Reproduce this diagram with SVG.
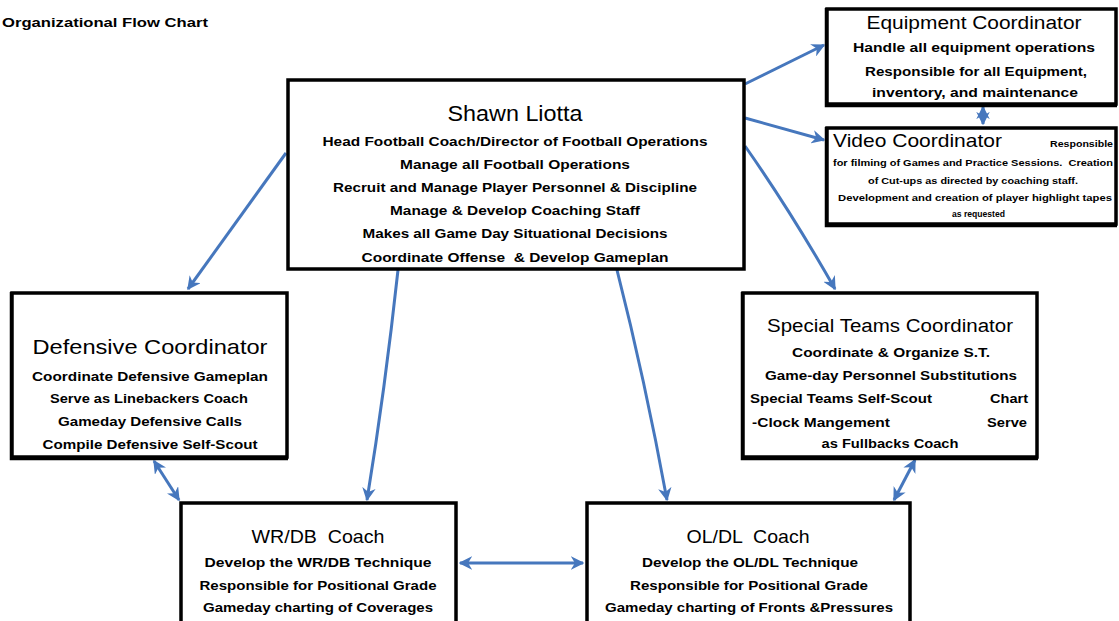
<svg xmlns="http://www.w3.org/2000/svg" width="1119" height="621" viewBox="0 0 1119 621">
<defs>
<style>
.box{fill:#fff;stroke:#000;stroke-width:3.5}
.sh{fill:none;stroke:#000;stroke-width:2.5}
text{font-family:"Liberation Sans",Arial,sans-serif;fill:#000;white-space:pre}
.t{font-size:20px;text-anchor:middle}
.b{font-size:13px;font-weight:bold;text-anchor:middle}
.s{font-size:8.5px;font-weight:bold}
.c{stroke:#4677bd;stroke-width:3;fill:none}
</style>
<marker id="ah" viewBox="0 0 10 10" refX="9" refY="5" markerWidth="4.5" markerHeight="4.5" orient="auto-start-reverse" markerUnits="strokeWidth">
<path d="M0,0 L10,5 L0,10 L3,5 Z" fill="#4677bd"/>
</marker>
</defs>
<rect width="1119" height="621" fill="#fff"/>
<text x="2" y="27" style="font-size:13px;font-weight:bold" textLength="206" lengthAdjust="spacingAndGlyphs">Organizational Flow Chart</text>

<g id="connectors">
<path class="c" d="M286,153 L188,289" marker-end="url(#ah)"/>
<path class="c" d="M398,270 Q385,390 367,500" marker-end="url(#ah)"/>
<path class="c" d="M617,270 Q645,380 667,500" marker-end="url(#ah)"/>
<path class="c" d="M745,146 Q790,210 835,289" marker-end="url(#ah)"/>
<path class="c" d="M745,84 L824,45" marker-end="url(#ah)"/>
<path class="c" d="M745,118 L824,140" marker-end="url(#ah)"/>
<path class="c" d="M154,461 L179,500" marker-start="url(#ah)" marker-end="url(#ah)"/>
<path class="c" d="M915,460 L894,500" marker-start="url(#ah)" marker-end="url(#ah)"/>
<path class="c" d="M460,563 L583,563" marker-start="url(#ah)" marker-end="url(#ah)"/>
<path class="c" d="M983,107 L983,124" marker-start="url(#ah)" marker-end="url(#ah)"/>
</g>

<g id="head">
<rect class="box" x="288" y="80" width="456" height="189"/>
<text class="t" x="515" y="121" style="font-size:22px" textLength="135" lengthAdjust="spacingAndGlyphs">Shawn Liotta</text>
<text class="b" x="515" y="146" textLength="385" lengthAdjust="spacingAndGlyphs">Head Football Coach/Director of Football Operations</text>
<text class="b" x="515" y="169" textLength="230" lengthAdjust="spacingAndGlyphs">Manage all Football Operations</text>
<text class="b" x="515" y="192" textLength="364" lengthAdjust="spacingAndGlyphs">Recruit and Manage Player Personnel &amp; Discipline</text>
<text class="b" x="515" y="215" textLength="250" lengthAdjust="spacingAndGlyphs">Manage &amp; Develop Coaching Staff</text>
<text class="b" x="515" y="238" textLength="305" lengthAdjust="spacingAndGlyphs">Makes all Game Day Situational Decisions</text>
<text class="b" x="515" y="262" textLength="307" lengthAdjust="spacingAndGlyphs">Coordinate Offense  &amp; Develop Gameplan</text>
</g>

<g id="equipment">
<rect class="box" x="827" y="9" width="289" height="95"/>
<path class="sh" d="M826,8 V106 H1117"/>
<text class="t" x="974" y="29" style="font-size:18px" textLength="215" lengthAdjust="spacingAndGlyphs">Equipment Coordinator</text>
<text class="b" x="974" y="52" textLength="242" lengthAdjust="spacingAndGlyphs">Handle all equipment operations</text>
<text class="b" x="976" y="76" textLength="222" lengthAdjust="spacingAndGlyphs">Responsible for all Equipment,</text>
<text class="b" x="975" y="97" textLength="206" lengthAdjust="spacingAndGlyphs">inventory, and maintenance</text>
</g>

<g id="video">
<rect class="box" x="827" y="128" width="289" height="96"/>
<path class="sh" d="M826,127 V226 H1117"/>
<text x="833" y="147" style="font-size:19px" textLength="169" lengthAdjust="spacingAndGlyphs">Video Coordinator</text>
<text class="s" x="1050" y="147" textLength="63" lengthAdjust="spacingAndGlyphs">Responsible</text>
<text class="s" x="833" y="166" textLength="280" lengthAdjust="spacingAndGlyphs">for filming of Games and Practice Sessions.  Creation</text>
<text class="s" x="868" y="184" textLength="210" lengthAdjust="spacingAndGlyphs">of Cut-ups as directed by coaching staff.</text>
<text class="s" x="838" y="201" textLength="274" lengthAdjust="spacingAndGlyphs">Development and creation of player highlight tapes</text>
<text class="s" x="952" y="217" textLength="53" lengthAdjust="spacingAndGlyphs">as requested</text>
</g>

<g id="defensive">
<rect class="box" x="12" y="293" width="275" height="164"/>
<path class="sh" d="M11,292 V459 H288"/>
<text class="t" x="150" y="354" style="font-size:21px" textLength="235" lengthAdjust="spacingAndGlyphs">Defensive Coordinator</text>
<text class="b" x="150" y="381" textLength="236" lengthAdjust="spacingAndGlyphs">Coordinate Defensive Gameplan</text>
<text class="b" x="149" y="403" textLength="198" lengthAdjust="spacingAndGlyphs">Serve as Linebackers Coach</text>
<text class="b" x="150" y="426" textLength="184" lengthAdjust="spacingAndGlyphs">Gameday Defensive Calls</text>
<text class="b" x="150" y="449" textLength="215" lengthAdjust="spacingAndGlyphs">Compile Defensive Self-Scout</text>
</g>

<g id="special">
<rect class="box" x="743" y="293" width="294" height="164"/>
<path class="sh" d="M742,292 V459 H1038"/>
<text class="t" x="890" y="332" style="font-size:18px" textLength="246" lengthAdjust="spacingAndGlyphs">Special Teams Coordinator</text>
<text class="b" x="891" y="357" textLength="198" lengthAdjust="spacingAndGlyphs">Coordinate &amp; Organize S.T.</text>
<text class="b" x="891" y="380" textLength="252" lengthAdjust="spacingAndGlyphs">Game-day Personnel Substitutions</text>
<text class="b" x="750" y="403" style="text-anchor:start" textLength="182" lengthAdjust="spacingAndGlyphs">Special Teams Self-Scout</text>
<text class="b" x="990" y="403" style="text-anchor:start" textLength="38" lengthAdjust="spacingAndGlyphs">Chart</text>
<text class="b" x="752" y="427" style="text-anchor:start" textLength="138" lengthAdjust="spacingAndGlyphs">-Clock Mangement</text>
<text class="b" x="987" y="427" style="text-anchor:start" textLength="40" lengthAdjust="spacingAndGlyphs">Serve</text>
<text class="b" x="890" y="448" textLength="137" lengthAdjust="spacingAndGlyphs">as Fullbacks Coach</text>
</g>

<g id="wrdb">
<rect class="box" x="181" y="503" width="275" height="130"/>
<text class="t" x="318" y="543" style="font-size:19px" textLength="133" lengthAdjust="spacingAndGlyphs">WR/DB  Coach</text>
<text class="b" x="318" y="567" textLength="227" lengthAdjust="spacingAndGlyphs">Develop the WR/DB Technique</text>
<text class="b" x="318" y="590" textLength="237" lengthAdjust="spacingAndGlyphs">Responsible for Positional Grade</text>
<text class="b" x="318" y="612" textLength="230" lengthAdjust="spacingAndGlyphs">Gameday charting of Coverages</text>
</g>

<g id="oldl">
<rect class="box" x="587" y="503" width="323" height="130"/>
<text class="t" x="748" y="543" style="font-size:19px" textLength="123" lengthAdjust="spacingAndGlyphs">OL/DL  Coach</text>
<text class="b" x="750" y="567" textLength="216" lengthAdjust="spacingAndGlyphs">Develop the OL/DL Technique</text>
<text class="b" x="749" y="590" textLength="238" lengthAdjust="spacingAndGlyphs">Responsible for Positional Grade</text>
<text class="b" x="749" y="612" textLength="288" lengthAdjust="spacingAndGlyphs">Gameday charting of Fronts &amp;Pressures</text>
</g>
</svg>
